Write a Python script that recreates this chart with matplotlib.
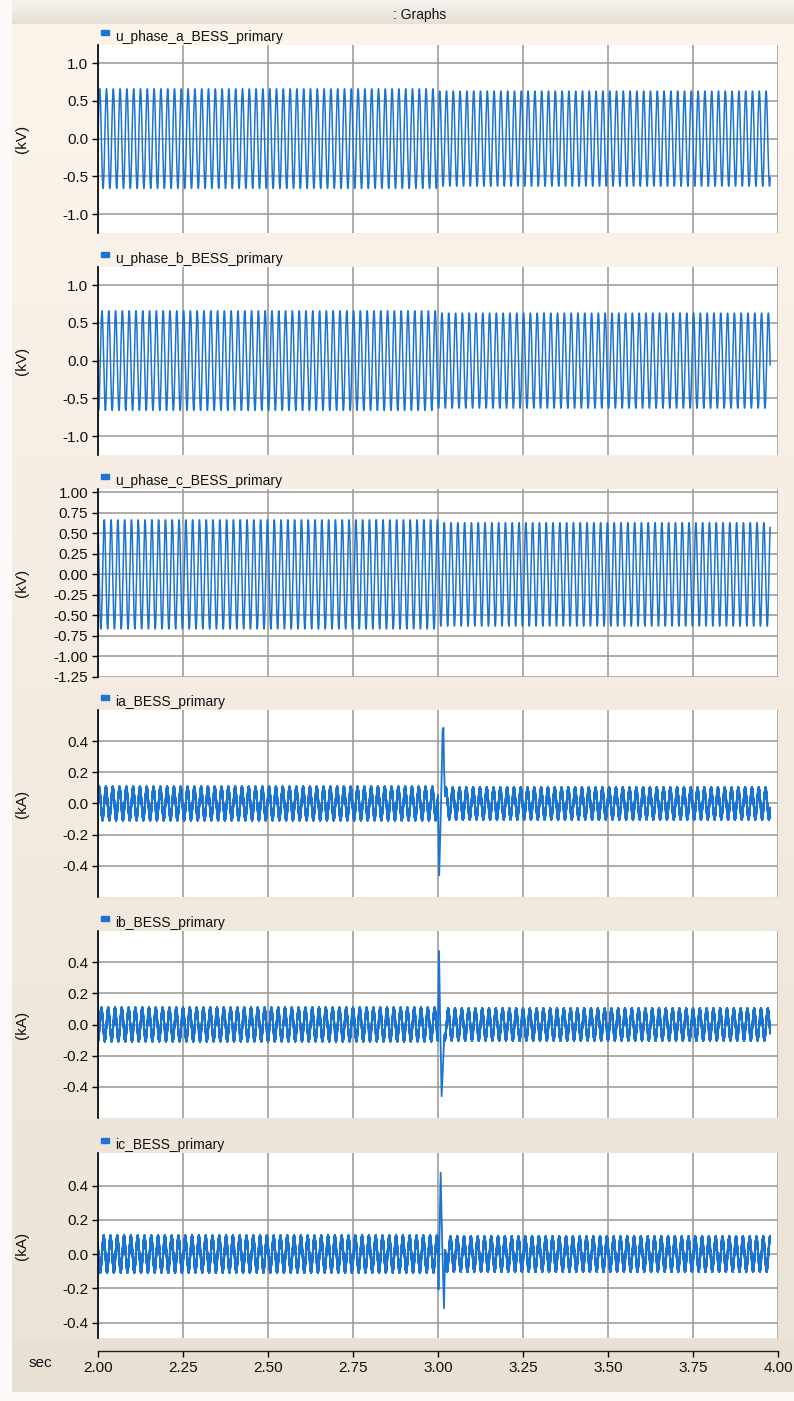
import numpy as np
import matplotlib
matplotlib.use("Agg")
import matplotlib.pyplot as plt
from matplotlib.patches import Rectangle
from matplotlib.ticker import FormatStrFormatter

plt.rcParams['font.family'] = ['Liberation Sans', 'DejaVu Sans']
plt.rcParams['axes.unicode_minus'] = False

# ---------------- data ----------------
signal_names = ['u_phase_a_BESS_primary', 'u_phase_b_BESS_primary', 'u_phase_c_BESS_primary',
                'ia_BESS_primary', 'ib_BESS_primary', 'ic_BESS_primary']
units = ['(kV)', '(kV)', '(kV)', '(kA)', '(kA)', '(kA)']

time_window = [2.0, 3.977]          # s, extent of recorded traces
fault_time = 3.0                    # s, disturbance instant
system_freq_hz = 50.0

# voltage waveforms: peak amplitude before / after the disturbance (kV)
v_amp_pre = [0.66, 0.66, 0.665]
v_amp_post = [0.63, 0.63, 0.63]
v_phase_deg = [0.0, -120.0, 120.0]

# current waveforms: peak amplitude before / after (kA) and switching ripple
i_amp_pre = [0.095, 0.095, 0.095]
i_amp_post = [0.090, 0.090, 0.090]
i_phase_deg = [30.0, -90.0, 150.0]
i_ripple_amp = [0.016, 0.016, 0.016]
i_ripple_freq_hz = 2450.0

# current transients around t = 3.0 s (time s, value kA)
ia_spike_t = [3.0000, 3.0035, 3.0090, 3.0135, 3.0160, 3.0180, 3.0205]
ia_spike_v = [0.05, -0.46, 0.00, 0.47, 0.486, 0.21, 0.00]
ib_spike_t = [2.9995, 3.0030, 3.0065, 3.0106, 3.0150, 3.0185]
ib_spike_v = [0.00, 0.472, 0.00, -0.46, -0.25, 0.00]
ic_spike_t = [2.9995, 3.0015, 3.0078, 3.0125, 3.0176, 3.0210]
ic_spike_v = [0.00, -0.207, 0.475, 0.05, -0.316, 0.00]

y_limits = [(-1.25, 1.24), (-1.25, 1.24), (-1.25, 1.04), (-0.6, 0.6), (-0.6, 0.6), (-0.49, 0.59)]
y_ticks = [[-1.0, -0.5, 0.0, 0.5, 1.0],
           [-1.0, -0.5, 0.0, 0.5, 1.0],
           [-1.25, -1.0, -0.75, -0.5, -0.25, 0.0, 0.25, 0.5, 0.75, 1.0],
           [-0.4, -0.2, 0.0, 0.2, 0.4],
           [-0.4, -0.2, 0.0, 0.2, 0.4],
           [-0.4, -0.2, 0.0, 0.2, 0.4]]
y_fmt = ['%.1f', '%.1f', '%.2f', '%.1f', '%.1f', '%.1f']
x_ticks = [2.00, 2.25, 2.50, 2.75, 3.00, 3.25, 3.50, 3.75, 4.00]

# ---------------- series construction ----------------
dt = 5e-5
w = 2 * np.pi * system_freq_hz


def voltage(k):
    t1 = np.arange(time_window[0], fault_time, dt)
    t2 = np.arange(fault_time, time_window[1], dt)
    ph = np.deg2rad(v_phase_deg[k])
    y1 = v_amp_pre[k] * np.sin(w * t1 + ph)
    y2 = v_amp_post[k] * np.sin(w * t2 + ph)
    return np.concatenate([t1, t2]), np.concatenate([y1, y2])


def current(k, st, sv):
    t1 = np.arange(time_window[0], st[0], dt)
    t2 = np.arange(st[-1], time_window[1], dt)
    ph = np.deg2rad(i_phase_deg[k])
    rip = lambda t: i_ripple_amp[k] * np.sin(2 * np.pi * i_ripple_freq_hz * t)
    y1 = i_amp_pre[k] * np.sin(w * t1 + ph) + rip(t1)
    y2 = i_amp_post[k] * np.sin(w * t2 + ph) + rip(t2)
    return (np.concatenate([t1, np.array(st[1:-1]), t2]),
            np.concatenate([y1, np.array(sv[1:-1]), y2]))


series = [voltage(0), voltage(1), voltage(2),
          current(0, ia_spike_t, ia_spike_v),
          current(1, ib_spike_t, ib_spike_v),
          current(2, ic_spike_t, ic_spike_v)]

# ---------------- layout ----------------
W, H = 794, 1401
fig = plt.figure(figsize=(W / 100, H / 100), dpi=100)


def rect(x0, y0, x1, y1):
    return [x0 / W, 1 - y1 / H, (x1 - x0) / W, (y1 - y0) / H]


# background
bg = fig.add_axes([0, 0, 1, 1], zorder=-10)
bg.axis('off')
img = np.zeros((H, W, 3))
yy = np.arange(H)[:, None]
top_c = np.array([0.99, 0.96, 0.925])
bot_c = np.array([0.925, 0.89, 0.845])
frac = np.clip((yy - 24) / (1340 - 24), 0, 1)[:, :, None]
img[:] = top_c * (1 - frac) + bot_c * frac
tb = np.clip(yy / 24, 0, 1)[:, :, None]
title_band = (np.array([0.965, 0.955, 0.94]) * (1 - tb) + np.array([0.905, 0.875, 0.835]) * tb)
img[:24] = np.broadcast_to(title_band[:24], (24, W, 3))
img[1340:] = np.array([0.915, 0.88, 0.835])
img[:, :12] = np.array([0.99, 0.98, 0.965])
img[1392:] = np.array([0.99, 0.98, 0.965])
bg.imshow(img, aspect='auto', extent=[0, W, H, 0], interpolation='bilinear')
bg.set_xlim(0, W)
bg.set_ylim(H, 0)

fig.text(420 / W, 1 - 15 / H, ': Graphs', ha='center', va='center', fontsize=10, color='#111111')

panel_px = [(45, 233), (267, 455), (489, 677), (710, 897), (931, 1118), (1153, 1338)]
x_left, x_right = 98, 778
trace_color = '#1c74d2'
grid_color = '#a19d99'

for k in range(6):
    top, bot = panel_px[k]
    ax = fig.add_axes(rect(x_left, top, x_right, bot), zorder=0)
    ax.set_facecolor('white')
    t, y = series[k]
    ax.plot(t, y, color=trace_color, lw=1.1 if k < 3 else 1.3, antialiased=True)
    ax.set_xlim(2.0, 4.0)
    ax.set_ylim(*y_limits[k])
    ax.set_xticks(x_ticks)
    ax.set_yticks(y_ticks[k])
    ax.yaxis.set_major_formatter(FormatStrFormatter(y_fmt[k]))
    ax.grid(True, color=grid_color, lw=1.2)
    ax.set_axisbelow(True)
    for s in ['top', 'right', 'bottom']:
        ax.spines[s].set_visible(False)
    ax.spines['left'].set_color('black')
    ax.spines['left'].set_linewidth(1.2)
    ax.tick_params(axis='x', bottom=False, labelbottom=False)
    ax.tick_params(axis='y', direction='out', length=4, width=1, labelsize=11, pad=3,
                   colors='black', labelcolor='#111111')
    # legend marker and name (partly hidden by the plot area like the original)
    fig.patches.append(Rectangle(((x_left + 3) / W, 1 - (top - 10) / H), 8 / W, 5 / H,
                                 transform=fig.transFigure, color='#1c74d2', zorder=-1))
    fig.text((x_left + 17) / W, 1 - (top - 4) / H, signal_names[k], fontsize=10,
             va='baseline', ha='left', color='#111111', zorder=-1)
    fig.text(22 / W, 1 - ((top + bot) / 2) / H, units[k], rotation=90, fontsize=11,
             ha='center', va='center', color='#111111')

# shared time axis
axx = fig.add_axes(rect(x_left, 1330, x_right, 1351), zorder=0)
axx.patch.set_visible(False)
for s in ['top', 'right', 'left']:
    axx.spines[s].set_visible(False)
axx.spines['bottom'].set_color('#222222')
axx.spines['bottom'].set_linewidth(1.0)
axx.set_xlim(2.0, 4.0)
axx.set_xticks(x_ticks)
axx.xaxis.set_major_formatter(FormatStrFormatter('%.2f'))
axx.set_yticks([])
axx.tick_params(axis='x', direction='out', length=4, width=1, labelsize=11, pad=3,
                labelcolor='#111111')
fig.text(40 / W, 1 - 1363 / H, 'sec', ha='center', va='center', fontsize=11, color='#111111')

fig.savefig('out.png', dpi=100)
